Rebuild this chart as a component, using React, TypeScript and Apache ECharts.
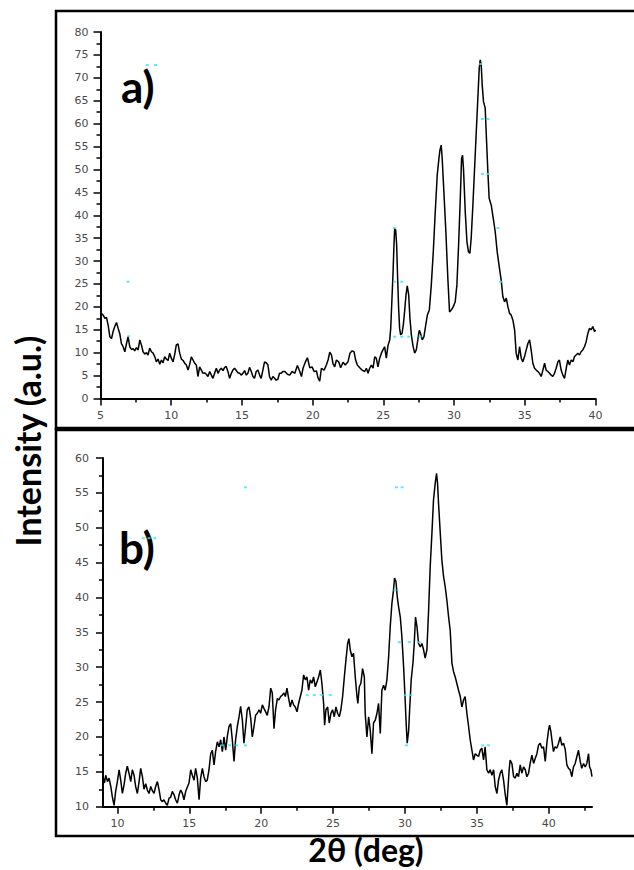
import React, { useEffect, useRef } from 'react';
import * as echarts from 'echarts';

// Panel a) XRD pattern: [2θ (deg), intensity (a.u.)]
const xrdA: [number, number][] = [
  [5.00,18.7],[5.19,18.2],[5.31,17.5],[5.42,17.7],[5.54,16.0],[5.66,13.5],[5.78,13.1],[5.89,14.6],[6.01,15.7],[6.13,16.6],
  [6.25,15.3],[6.36,14.2],[6.48,12.0],[6.60,11.3],[6.72,10.2],[6.84,12.0],[6.95,13.5],[7.07,11.3],[7.19,10.7],[7.31,10.9],
  [7.42,10.4],[7.54,11.1],[7.66,10.6],[7.78,12.8],[7.89,11.7],[8.01,10.2],[8.13,9.7],[8.25,10.0],[8.36,9.5],[8.48,11.0],
  [8.60,10.2],[8.72,9.9],[8.84,9.1],[8.95,8.0],[9.07,8.6],[9.19,7.5],[9.31,8.4],[9.42,7.8],[9.54,9.1],[9.66,8.6],
  [9.78,8.3],[9.89,9.9],[10.01,8.8],[10.13,8.0],[10.25,9.7],[10.36,11.7],[10.48,11.9],[10.60,9.9],[10.72,8.6],[10.84,8.3],
  [10.95,7.7],[11.07,7.3],[11.19,6.2],[11.31,7.5],[11.42,9.1],[11.54,8.4],[11.66,7.7],[11.78,7.3],[11.89,4.8],[12.01,6.9],
  [12.13,6.2],[12.25,5.5],[12.36,5.6],[12.48,5.3],[12.60,4.8],[12.72,5.9],[12.84,5.1],[12.95,4.4],[13.07,5.5],[13.19,6.6],
  [13.31,5.5],[13.42,6.2],[13.54,6.6],[13.66,6.1],[13.78,6.8],[13.89,7.0],[14.01,5.9],[14.13,4.4],[14.25,5.5],[14.36,6.2],
  [14.48,6.6],[14.60,6.1],[14.72,5.6],[14.84,5.5],[14.95,5.1],[15.07,5.5],[15.19,6.1],[15.31,5.1],[15.42,5.5],[15.54,6.8],
  [15.66,5.9],[15.78,4.8],[15.89,4.4],[16.01,5.9],[16.13,6.2],[16.25,5.1],[16.36,4.4],[16.48,6.2],[16.60,8.0],[16.72,7.8],
  [16.84,7.3],[16.95,4.8],[17.07,4.0],[17.19,4.8],[17.31,4.4],[17.42,4.0],[17.54,4.2],[17.66,5.5],[17.78,5.5],[17.89,5.9],
  [18.03,5.9],[18.22,5.3],[18.38,5.1],[18.55,5.9],[18.74,5.5],[18.92,7.2],[19.09,5.9],[19.21,4.8],[19.32,6.6],[19.49,8.0],
  [19.63,8.9],[19.80,6.7],[19.96,6.9],[20.10,5.9],[20.27,6.0],[20.38,4.5],[20.50,3.8],[20.62,6.6],[20.81,6.2],[20.97,7.3],
  [21.09,8.4],[21.21,10.1],[21.33,9.5],[21.44,7.6],[21.56,6.9],[21.68,8.4],[21.84,8.0],[21.98,6.7],[22.15,7.9],[22.31,7.3],
  [22.50,8.0],[22.64,9.9],[22.79,10.4],[22.93,10.2],[23.04,8.4],[23.16,7.3],[23.33,6.7],[23.49,6.2],[23.68,5.9],[23.80,6.6],
  [23.92,5.5],[24.03,6.6],[24.15,7.3],[24.27,6.6],[24.39,9.1],[24.50,8.8],[24.62,6.9],[24.74,8.8],[24.86,9.9],[24.97,10.6],
  [25.09,11.3],[25.21,8.8],[25.33,11.6],[25.45,12.8],[25.52,15.3],[25.61,21.9],[25.68,27.0],[25.75,33.5],[25.80,37.1],[25.87,36.8],
  [25.94,33.5],[26.01,26.2],[26.08,19.7],[26.15,15.3],[26.22,13.9],[26.32,14.2],[26.41,16.0],[26.50,18.9],[26.60,22.6],[26.69,24.6],
  [26.79,22.6],[26.88,17.5],[26.98,13.9],[27.09,11.6],[27.21,9.9],[27.33,10.6],[27.45,13.1],[27.54,14.9],[27.63,14.2],[27.75,12.8],
  [27.87,13.5],[27.96,15.3],[28.11,18.2],[28.25,19.3],[28.39,24.8],[28.53,32.0],[28.67,40.8],[28.81,48.8],[28.93,52.4],[29.00,54.2],
  [29.09,55.3],[29.16,52.4],[29.28,45.1],[29.42,36.4],[29.56,26.2],[29.68,18.9],[29.80,19.3],[29.94,20.0],[30.08,21.1],[30.20,24.8],
  [30.32,33.5],[30.44,43.7],[30.53,52.4],[30.60,53.1],[30.67,49.9],[30.79,40.8],[30.91,34.2],[31.02,32.0],[31.12,31.7],[31.21,35.0],
  [31.33,42.2],[31.45,50.2],[31.57,58.2],[31.68,65.5],[31.78,72.1],[31.85,73.9],[31.92,72.8],[31.99,68.4],[32.08,64.8],[32.20,63.4],
  [32.30,56.0],[32.39,49.5],[32.48,43.7],[32.63,42.2],[32.77,39.3],[32.91,36.4],[33.05,32.0],[33.21,28.4],[33.33,25.9],[33.45,22.2],
  [33.57,21.1],[33.69,21.9],[33.81,20.0],[33.92,18.6],[34.04,18.2],[34.16,17.1],[34.28,15.0],[34.39,9.9],[34.51,8.4],[34.63,11.3],
  [34.75,8.8],[34.86,8.0],[34.98,9.1],[35.10,10.6],[35.22,12.0],[35.34,12.8],[35.45,10.6],[35.57,7.7],[35.69,6.6],[35.81,6.2],
  [35.92,5.9],[36.04,5.5],[36.16,4.8],[36.28,6.2],[36.40,7.7],[36.51,6.2],[36.63,5.9],[36.75,5.5],[36.87,5.1],[36.98,4.8],
  [37.10,5.5],[37.22,6.6],[37.34,8.0],[37.45,8.4],[37.57,6.2],[37.69,5.1],[37.81,4.4],[37.93,6.6],[38.04,8.4],[38.16,7.3],
  [38.28,8.4],[38.40,8.0],[38.51,9.1],[38.63,9.5],[38.75,9.9],[38.87,9.5],[38.98,10.2],[39.10,10.6],[39.22,11.3],[39.34,12.4],
  [39.46,14.2],[39.57,15.3],[39.69,15.0],[39.81,15.7],[39.93,14.6],[40.00,15.0]
];

// Panel b) XRD pattern: [2θ (deg), intensity (a.u.)]
const xrdB: [number, number][] = [
  [9.00,14.3],[9.10,13.4],[9.19,14.5],[9.31,13.6],[9.42,14.1],[9.54,12.9],[9.65,11.4],[9.77,10.2],[9.88,12.2],[10.00,13.6],
  [10.12,15.3],[10.23,13.8],[10.35,11.9],[10.46,13.1],[10.58,14.8],[10.69,15.8],[10.81,14.8],[10.93,13.6],[11.04,15.3],[11.16,14.5],
  [11.27,12.9],[11.39,11.9],[11.51,13.6],[11.62,15.5],[11.74,14.3],[11.85,12.5],[11.97,13.3],[12.08,12.4],[12.20,11.9],[12.32,12.9],
  [12.43,12.3],[12.55,11.9],[12.66,12.9],[12.78,13.6],[12.90,12.4],[13.01,11.0],[13.13,10.7],[13.24,11.0],[13.36,10.5],[13.47,10.2],
  [13.59,11.2],[13.71,11.4],[13.82,12.2],[13.94,11.7],[14.05,11.0],[14.17,10.5],[14.29,11.7],[14.40,12.4],[14.52,11.9],[14.63,11.0],
  [14.75,12.2],[14.86,12.8],[14.98,13.4],[15.10,15.3],[15.21,14.5],[15.33,13.8],[15.44,15.5],[15.56,14.1],[15.68,11.0],[15.79,14.1],
  [15.91,15.5],[16.02,14.3],[16.14,13.6],[16.25,13.8],[16.37,15.3],[16.49,17.6],[16.60,18.1],[16.72,16.0],[16.83,17.9],[16.95,19.3],
  [17.07,18.6],[17.18,19.6],[17.30,17.9],[17.41,20.0],[17.53,18.1],[17.64,20.0],[17.76,21.5],[17.88,21.9],[17.99,19.6],[18.11,16.5],
  [18.22,19.6],[18.34,21.5],[18.46,22.9],[18.57,24.4],[18.69,22.4],[18.80,19.1],[18.92,21.5],[19.03,23.9],[19.15,24.3],[19.27,22.7],
  [19.38,20.0],[19.50,21.5],[19.61,23.1],[19.73,23.4],[19.85,23.9],[19.96,23.4],[20.08,24.6],[20.19,24.1],[20.31,23.6],[20.42,23.1],
  [20.54,24.3],[20.66,27.0],[20.77,26.3],[20.89,21.2],[21.00,23.9],[21.12,25.5],[21.23,25.3],[21.35,25.8],[21.47,26.0],[21.58,26.3],
  [21.68,25.8],[21.79,27.0],[21.91,25.5],[22.02,24.3],[22.14,25.3],[22.25,24.6],[22.37,24.3],[22.49,23.6],[22.60,24.8],[22.72,25.8],
  [22.83,26.7],[22.95,28.9],[23.07,28.2],[23.18,28.6],[23.30,26.7],[23.41,28.2],[23.53,27.7],[23.64,28.6],[23.76,27.2],[23.88,27.9],
  [23.99,28.6],[24.11,29.6],[24.22,27.7],[24.34,24.8],[24.41,21.7],[24.50,23.9],[24.62,24.3],[24.73,22.0],[24.85,23.4],[24.96,23.9],
  [25.08,22.9],[25.20,24.3],[25.31,23.4],[25.43,22.9],[25.54,23.9],[25.66,25.8],[25.78,28.6],[25.89,31.0],[26.01,33.4],[26.10,34.1],
  [26.19,32.5],[26.31,31.5],[26.42,32.0],[26.54,28.6],[26.66,25.8],[26.72,24.8],[26.82,27.2],[26.93,27.7],[27.05,29.8],[27.17,28.6],
  [27.23,23.4],[27.35,20.0],[27.47,22.9],[27.58,21.0],[27.70,17.6],[27.81,22.0],[27.93,22.4],[28.05,23.4],[28.16,24.8],[28.28,20.5],
  [28.39,26.7],[28.51,27.4],[28.62,26.7],[28.74,28.2],[28.86,31.5],[28.97,35.8],[29.09,39.2],[29.20,41.1],[29.27,42.8],[29.37,42.3],
  [29.46,40.1],[29.55,38.7],[29.67,37.2],[29.78,34.4],[29.90,30.1],[30.01,25.3],[30.08,21.9],[30.15,19.1],[30.25,20.9],[30.32,23.9],
  [30.43,28.2],[30.55,30.6],[30.64,33.4],[30.73,37.2],[30.83,35.8],[30.94,33.4],[31.06,32.9],[31.17,33.4],[31.29,32.5],[31.40,31.3],
  [31.52,32.5],[31.64,38.2],[31.75,44.4],[31.87,49.2],[31.98,54.0],[32.10,56.4],[32.19,57.8],[32.26,56.4],[32.33,53.5],[32.45,49.2],
  [32.56,45.4],[32.68,43.0],[32.79,41.6],[32.91,39.6],[33.03,37.2],[33.14,35.3],[33.26,30.6],[33.37,29.4],[33.49,28.6],[33.60,27.7],
  [33.72,26.7],[33.84,25.8],[33.95,24.3],[34.07,25.3],[34.18,25.8],[34.30,23.4],[34.42,21.5],[34.53,19.6],[34.65,18.1],[34.76,16.7],
  [34.88,17.6],[34.99,17.4],[35.11,17.2],[35.23,18.1],[35.34,18.4],[35.46,16.7],[35.57,18.6],[35.69,15.3],[35.81,14.8],[35.92,15.3],
  [36.04,14.5],[36.16,15.3],[36.27,12.9],[36.39,11.9],[36.50,13.8],[36.62,14.8],[36.73,15.3],[36.85,13.8],[36.97,11.7],[37.08,10.2],
  [37.15,12.4],[37.24,15.3],[37.31,16.7],[37.43,16.2],[37.55,14.3],[37.66,14.1],[37.78,14.8],[37.89,14.3],[38.01,16.0],[38.12,14.8],
  [38.24,15.7],[38.36,15.3],[38.47,14.3],[38.59,14.8],[38.70,16.2],[38.82,17.4],[38.94,16.2],[39.05,16.9],[39.17,17.6],[39.28,18.8],
  [39.40,19.1],[39.51,18.4],[39.63,18.6],[39.75,16.5],[39.86,19.1],[39.98,21.0],[40.05,21.7],[40.14,20.8],[40.21,19.6],[40.32,17.9],
  [40.44,18.6],[40.56,18.4],[40.67,19.1],[40.79,20.0],[40.90,18.8],[41.02,19.1],[41.14,18.2],[41.25,16.0],[41.37,15.5],[41.48,15.3],
  [41.60,14.3],[41.71,15.7],[41.83,16.2],[41.95,17.2],[42.06,18.1],[42.18,16.5],[42.29,15.5],[42.41,16.2],[42.53,15.7],[42.64,16.2],
  [42.76,17.6],[42.83,15.7],[42.92,15.3],[43.00,14.3]
];

// Small cyan specks visible in the reference image
const cyanA: [number, number][] = [
  [31.88,73],[32.0,61],[32.4,61],[32.0,49],[32.4,49],[25.8,37.2],[25.8,25.5],[26.3,25.5],
  [25.8,13.5],[26.3,13.5],[26.8,13.5],[27.6,13.5],[33.3,25.5],[33.1,37.2],[8.3,72.8],[8.9,72.8],[7.0,13.6],[6.95,25.5]
];
const cyanB: [number, number][] = [
  [11.8,48.5],[12.2,48.5],[12.6,48.5],[18.9,55.8],[29.4,55.8],[29.8,55.8],[29.3,41],[29.6,33.6],[30.3,33.6],[31.0,33.6],
  [30.0,26],[30.4,26],[30.1,18.8],[35.4,18.8],[35.8,18.8],[17.3,18.8],[17.8,18.8],[18.3,18.8],[18.9,18.8],
  [23.2,26],[23.7,26],[24.2,26],[24.8,26]
];

const xLabelValuesB = [10, 15, 20, 25, 30, 35, 40];
const xMinorValuesB = [12.5, 17.5, 22.5, 27.5, 32.5, 37.5, 42.5];

const labelFont = { color: '#4a4a4a', fontSize: 11, fontFamily: 'DejaVu Sans' };
const blackLine = { color: '#000', width: 2 };
const tickLine = { color: '#000', width: 1.5 };
const titleFont = 'Lato, "Open Sans", sans-serif';

export default function App() {
  const ref = useRef<HTMLDivElement>(null);
  useEffect(() => {
    if (!ref.current) return;
    const chart = echarts.init(ref.current, undefined, { renderer: 'svg' });
    const valueAxisBase = {
      type: 'value' as const,
      axisLine: { show: true, onZero: false, lineStyle: blackLine },
      splitLine: { show: false },
      minorSplitLine: { show: false },
    };
    chart.setOption({
      animation: false,
      backgroundColor: '#fff',
      grid: [
        { left: 100.5, top: 32, width: 495, height: 366.5 },
        { left: 103, top: 458, width: 489, height: 348.7 },
      ],
      xAxis: [
        {
          ...valueAxisBase, gridIndex: 0, position: 'bottom', min: 5, max: 40, interval: 5,
          axisTick: { show: true, length: 7, lineStyle: tickLine },
          minorTick: { show: true, splitNumber: 2, length: 4, lineStyle: tickLine },
          axisLabel: { ...labelFont, margin: 11 },
        },
        {
          ...valueAxisBase, gridIndex: 1, position: 'bottom', min: 9, max: 43,
          axisTick: { show: true, length: 7, lineStyle: tickLine, customValues: xLabelValuesB },
          axisLabel: { ...labelFont, margin: 11, customValues: xLabelValuesB },
        },
        {
          ...valueAxisBase, gridIndex: 1, position: 'bottom', min: 9, max: 43,
          axisLine: { show: false },
          axisTick: { show: true, length: 4, lineStyle: tickLine, customValues: xMinorValuesB },
          axisLabel: { show: false },
        },
      ],
      yAxis: [
        {
          ...valueAxisBase, gridIndex: 0, position: 'left', min: 0, max: 80, interval: 5,
          axisTick: { show: true, length: 7, lineStyle: tickLine },
          minorTick: { show: true, splitNumber: 2, length: 4, lineStyle: tickLine },
          axisLabel: { ...labelFont, margin: 12 },
        },
        {
          ...valueAxisBase, gridIndex: 1, position: 'left', min: 10, max: 60, interval: 5,
          axisTick: { show: true, length: 7, lineStyle: tickLine },
          minorTick: { show: true, splitNumber: 2, length: 4, lineStyle: tickLine },
          axisLabel: { ...labelFont, margin: 14 },
        },
      ],
      series: [
        {
          type: 'line', xAxisIndex: 0, yAxisIndex: 0, data: xrdA, symbol: 'none',
          lineStyle: { color: '#000', width: 1.5 }, z: 3,
        },
        {
          type: 'line', xAxisIndex: 1, yAxisIndex: 1, data: xrdB, symbol: 'none',
          lineStyle: { color: '#000', width: 1.5 }, z: 3,
        },
        {
          type: 'scatter', xAxisIndex: 0, yAxisIndex: 0, data: cyanA, symbol: 'rect',
          symbolSize: [3, 2], itemStyle: { color: '#34e4f2' }, z: 4,
        },
        {
          type: 'scatter', xAxisIndex: 1, yAxisIndex: 1, data: cyanB, symbol: 'rect',
          symbolSize: [3, 2], itemStyle: { color: '#34e4f2' }, z: 4,
        },
      ],
      graphic: [
        { type: 'rect', silent: true, shape: { x: 56, y: 11, width: 600, height: 418 }, style: { fill: 'none', stroke: '#000', lineWidth: 2.5 } },
        { type: 'rect', silent: true, shape: { x: 56, y: 429, width: 600, height: 407 }, style: { fill: 'none', stroke: '#000', lineWidth: 2.5 } },
        { type: 'line', silent: true, shape: { x1: 55, y1: 429, x2: 660, y2: 429 }, style: { stroke: '#000', lineWidth: 4.5 } },
        {
          type: 'text', x: 121, y: 86,
          style: { text: 'a)', font: `bold 44px ${titleFont}`, fill: '#000', align: 'left', verticalAlign: 'middle', textAlign: 'left', textVerticalAlign: 'middle' },
        },
        {
          type: 'text', x: 119, y: 547,
          style: { text: 'b)', font: `bold 44px ${titleFont}`, fill: '#000', align: 'left', verticalAlign: 'middle', textAlign: 'left', textVerticalAlign: 'middle' },
        },
        {
          type: 'text', x: 27, y: 441, rotation: Math.PI / 2,
          style: { text: 'Intensity (a.u.)', font: `bold 34px ${titleFont}`, fill: '#000', align: 'center', verticalAlign: 'middle', textAlign: 'center', textVerticalAlign: 'middle' },
        },
        {
          type: 'text', x: 366, y: 865,
          style: { text: '2θ (deg)', font: `bold 32px ${titleFont}`, fill: '#000', align: 'center', verticalAlign: 'bottom', textAlign: 'center', textVerticalAlign: 'bottom' },
        },
      ],
    });
    return () => chart.dispose();
  }, []);
  return (
    <div
      ref={ref}
      style={{ position: 'fixed', left: 0, top: 0, width: 634, height: 870, background: '#fff' }}
    />
  );
}
